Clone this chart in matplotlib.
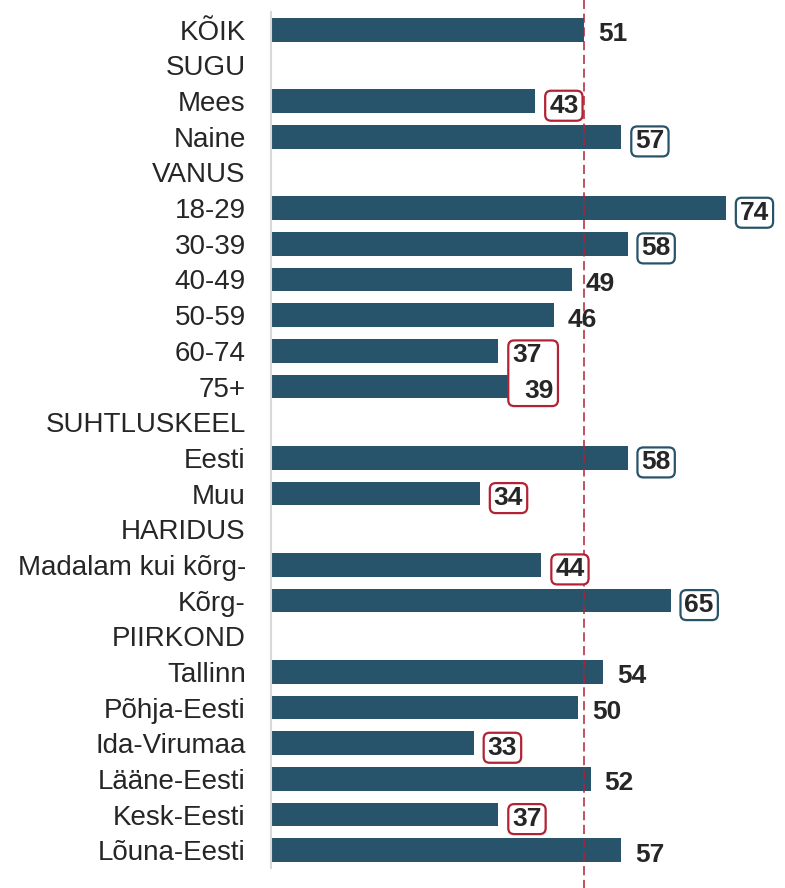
import matplotlib
matplotlib.use("Agg")
import matplotlib.pyplot as plt
from matplotlib.patches import FancyBboxPatch
from matplotlib.transforms import Bbox

# rows from top to bottom; None = group heading without a bar
labels = ["KÕIK", "SUGU", "Mees", "Naine", "VANUS", "18-29", "30-39", "40-49",
          "50-59", "60-74", "75+", "SUHTLUSKEEL", "Eesti", "Muu", "HARIDUS",
          "Madalam kui kõrg-", "Kõrg-", "PIIRKOND", "Tallinn", "Põhja-Eesti",
          "Ida-Virumaa", "Lääne-Eesti", "Kesk-Eesti", "Lõuna-Eesti"]
values = [51, None, 43, 57, None, 74, 58, 49, 46, 37, 39, None, 58, 34, None,
          44, 65, None, 54, 50, 33, 52, 37, 57]
# significance vs total: 'lo' = lower (red box), 'hi' = higher (blue box)
signif = [None, None, "lo", "hi", None, "hi", "hi", None, None, "lo", "lo",
          None, "hi", "lo", None, "lo", "hi", None, None, None, "lo", None,
          "lo", None]
total = 51

BAR = "#27546A"
RED = "#B22234"

plt.rcParams["font.family"] = ["Liberation Sans", "DejaVu Sans"]

fig = plt.figure(figsize=(7.85, 8.88), dpi=100)
ax = fig.add_axes([0.345, 0.0225, 0.655, 0.964])

n = len(labels)
ys = list(range(n))
for y, v in zip(ys, values):
    if v is not None:
        ax.barh(y, v, height=0.67, color=BAR)

ax.set_ylim(n - 0.5, -0.5)
ax.set_xlim(0, 83.6)
ax.set_yticks(ys)
ax.set_yticklabels(labels, fontsize=20, color="#262626")
ax.tick_params(axis="y", length=0, pad=18)
ax.set_xticks([])
for s in ["top", "right", "bottom"]:
    ax.spines[s].set_visible(False)
ax.spines["left"].set_color("#D9D9D9")
ax.spines["left"].set_linewidth(1.5)

ax.axvline(total, ymin=-0.03, ymax=1.02, color=RED, lw=1.1,
           ls=(0, (6, 3)), clip_on=False, zorder=3)

texts = {}
for y, v, s in zip(ys, values, signif):
    if v is None:
        continue
    t = ax.annotate(str(v), (v, y), xytext=(10, -1.5), textcoords="offset points",
                    ha="left", va="center_baseline", fontsize=19,
                    fontweight="bold", color="#262626", zorder=5)
    texts[y] = (t, s)

fig.canvas.draw()
renderer = fig.canvas.get_renderer()

# 60-74 and 75+ share one box in the original
grouped = [9, 10]
done = set()
for y, (t, s) in texts.items():
    if s is None or y in done:
        continue
    if y in grouped:
        bb = Bbox.union([texts[g][0].get_window_extent(renderer) for g in grouped])
        done.update(grouped)
    else:
        bb = t.get_window_extent(renderer)
    col = RED if s == "lo" else BAR
    box = FancyBboxPatch((bb.x0, bb.y0 + 1), bb.width, bb.height - 2,
                         boxstyle="round,pad=4,rounding_size=6",
                         transform=None, fc="white", ec=col, lw=1.6,
                         zorder=4, clip_on=False)
    ax.add_patch(box)

fig.savefig("out.png", dpi=100)
